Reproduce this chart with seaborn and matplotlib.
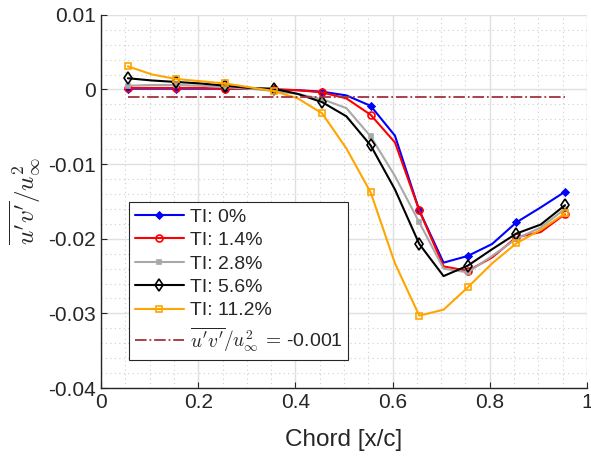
import numpy as np
import pandas as pd
import matplotlib
matplotlib.use("Agg")
import matplotlib.pyplot as plt
from matplotlib.ticker import MultipleLocator
import seaborn as sns

chord = [0.055, 0.105, 0.155, 0.205, 0.255, 0.305, 0.355, 0.405, 0.455, 0.505,
         0.555, 0.605, 0.655, 0.705, 0.755, 0.805, 0.855, 0.905, 0.955]

ti_0 = [0.0001, 0.0001, 0.0001, 0.0001, 0.0001, 0.0001, 0.0, -0.0001, -0.0003, -0.0008,
        -0.0022, -0.0062, -0.0162, -0.0232, -0.0223, -0.0207, -0.0178, -0.0158, -0.0137]
ti_14 = [0.0002, 0.0002, 0.0002, 0.0002, 0.0001, 0.0001, 0.0, -0.0001, -0.0004, -0.0012,
         -0.0034, -0.0071, -0.0162, -0.0237, -0.0243, -0.0225, -0.0198, -0.0191, -0.0167]
ti_28 = [0.0005, 0.0006, 0.0006, 0.0005, 0.0003, 0.0001, -0.0002, -0.0006, -0.0013, -0.0025,
         -0.0063, -0.0116, -0.0178, -0.0240, -0.0245, -0.0223, -0.0200, -0.0185, -0.0160]
ti_56 = [0.0015, 0.0012, 0.0010, 0.0008, 0.0005, 0.0002, 0.0001, -0.0006, -0.0017, -0.0036,
         -0.0075, -0.0134, -0.0207, -0.0250, -0.0236, -0.0214, -0.0193, -0.0181, -0.0155]
ti_112 = [0.0031, 0.0020, 0.0014, 0.0011, 0.0008, 0.0003, -0.0002, -0.0012, -0.0032, -0.0079,
          -0.0138, -0.0233, -0.0303, -0.0295, -0.0265, -0.0233, -0.0206, -0.0188, -0.0166]
ref_level = [-0.001] * len(chord)

labels = ["TI: 0%", "TI: 1.4%", "TI: 2.8%", "TI: 5.6%", "TI: 11.2%"]
series = [ti_0, ti_14, ti_28, ti_56, ti_112]

x_ticks = [0, 0.2, 0.4, 0.6, 0.8, 1.0]
x_ticklabels = ["0", "0.2", "0.4", "0.6", "0.8", "1"]
y_ticks = [0.01, 0, -0.01, -0.02, -0.03, -0.04]
y_ticklabels = ["0.01", "0", "-0.01", "-0.02", "-0.03", "-0.04"]

sns.set_style("ticks")
plt.rcParams["font.family"] = ["Liberation Sans", "DejaVu Sans"]
plt.rcParams["mathtext.fontset"] = "cm"

fig = plt.figure(figsize=(5.91, 4.62), dpi=100)
ax = fig.add_axes([0.171, 0.160, 0.822, 0.808])

styles = [
    dict(color="#0000ff", marker="D", markersize=3.5, mfc="#0000ff", mec="#0000ff"),
    dict(color="#ff0000", marker="o", markersize=5, mfc="none", mec="#ff0000"),
    dict(color="#a8a8a8", marker="s", markersize=3, mfc="#a8a8a8", mec="#a8a8a8"),
    dict(color="#000000", marker="d", markersize=6, mfc="none", mec="#000000"),
    dict(color="#ffa500", marker="s", markersize=5, mfc="none", mec="#ffa500"),
]

for lab, vals, st in zip(labels, series, styles):
    df = pd.DataFrame({"x": chord, "y": vals})
    sns.lineplot(data=df, x="x", y="y", ax=ax, label=lab, linewidth=1.5,
                 markevery=2, markeredgewidth=1.2, **st)

df_ref = pd.DataFrame({"x": chord, "y": ref_level})
sns.lineplot(data=df_ref, x="x", y="y", ax=ax, color="#a2333e", linestyle="-.",
             linewidth=1.3, label=r"$\overline{u^\prime v^\prime}/u^2_\infty\,=\,$-0.001")

ax.set_xlim(0, 1)
ax.set_ylim(-0.04, 0.01)
ax.set_xticks(x_ticks)
ax.set_xticklabels(x_ticklabels)
ax.set_yticks(y_ticks)
ax.set_yticklabels(y_ticklabels)
ax.xaxis.set_minor_locator(MultipleLocator(0.05))
ax.yaxis.set_minor_locator(MultipleLocator(0.002))

ax.grid(which="major", color="#e0e0e0", linewidth=1.0, linestyle="-")
ax.grid(which="minor", color="#cfcfcf", linewidth=0.8, linestyle=(0, (1, 3)))
ax.set_axisbelow(True)
for s in ["top", "right"]:
    ax.spines[s].set_visible(False)
for s in ["left", "bottom"]:
    ax.spines[s].set_color("#262626")
    ax.spines[s].set_linewidth(1.0)
ax.tick_params(which="both", direction="in", labelsize=15, colors="#262626")
ax.tick_params(which="major", length=4)
ax.tick_params(which="minor", length=0)

ax.set_xlabel("Chord [x/c]", fontsize=17.5, color="#262626", labelpad=12)
ax.set_ylabel(r"$\overline{u^\prime v^\prime}/u^2_\infty$", fontsize=18, color="#262626",
              labelpad=4)

leg = ax.legend(loc="lower left", bbox_to_anchor=(0.058, 0.075), fontsize=14,
                fancybox=False, framealpha=1, edgecolor="#262626",
                handlelength=2.5, borderaxespad=0, labelspacing=0.3,
                handletextpad=0.3, borderpad=0.3)
leg.get_frame().set_linewidth(0.8)

fig.savefig("out.png", dpi=100)
